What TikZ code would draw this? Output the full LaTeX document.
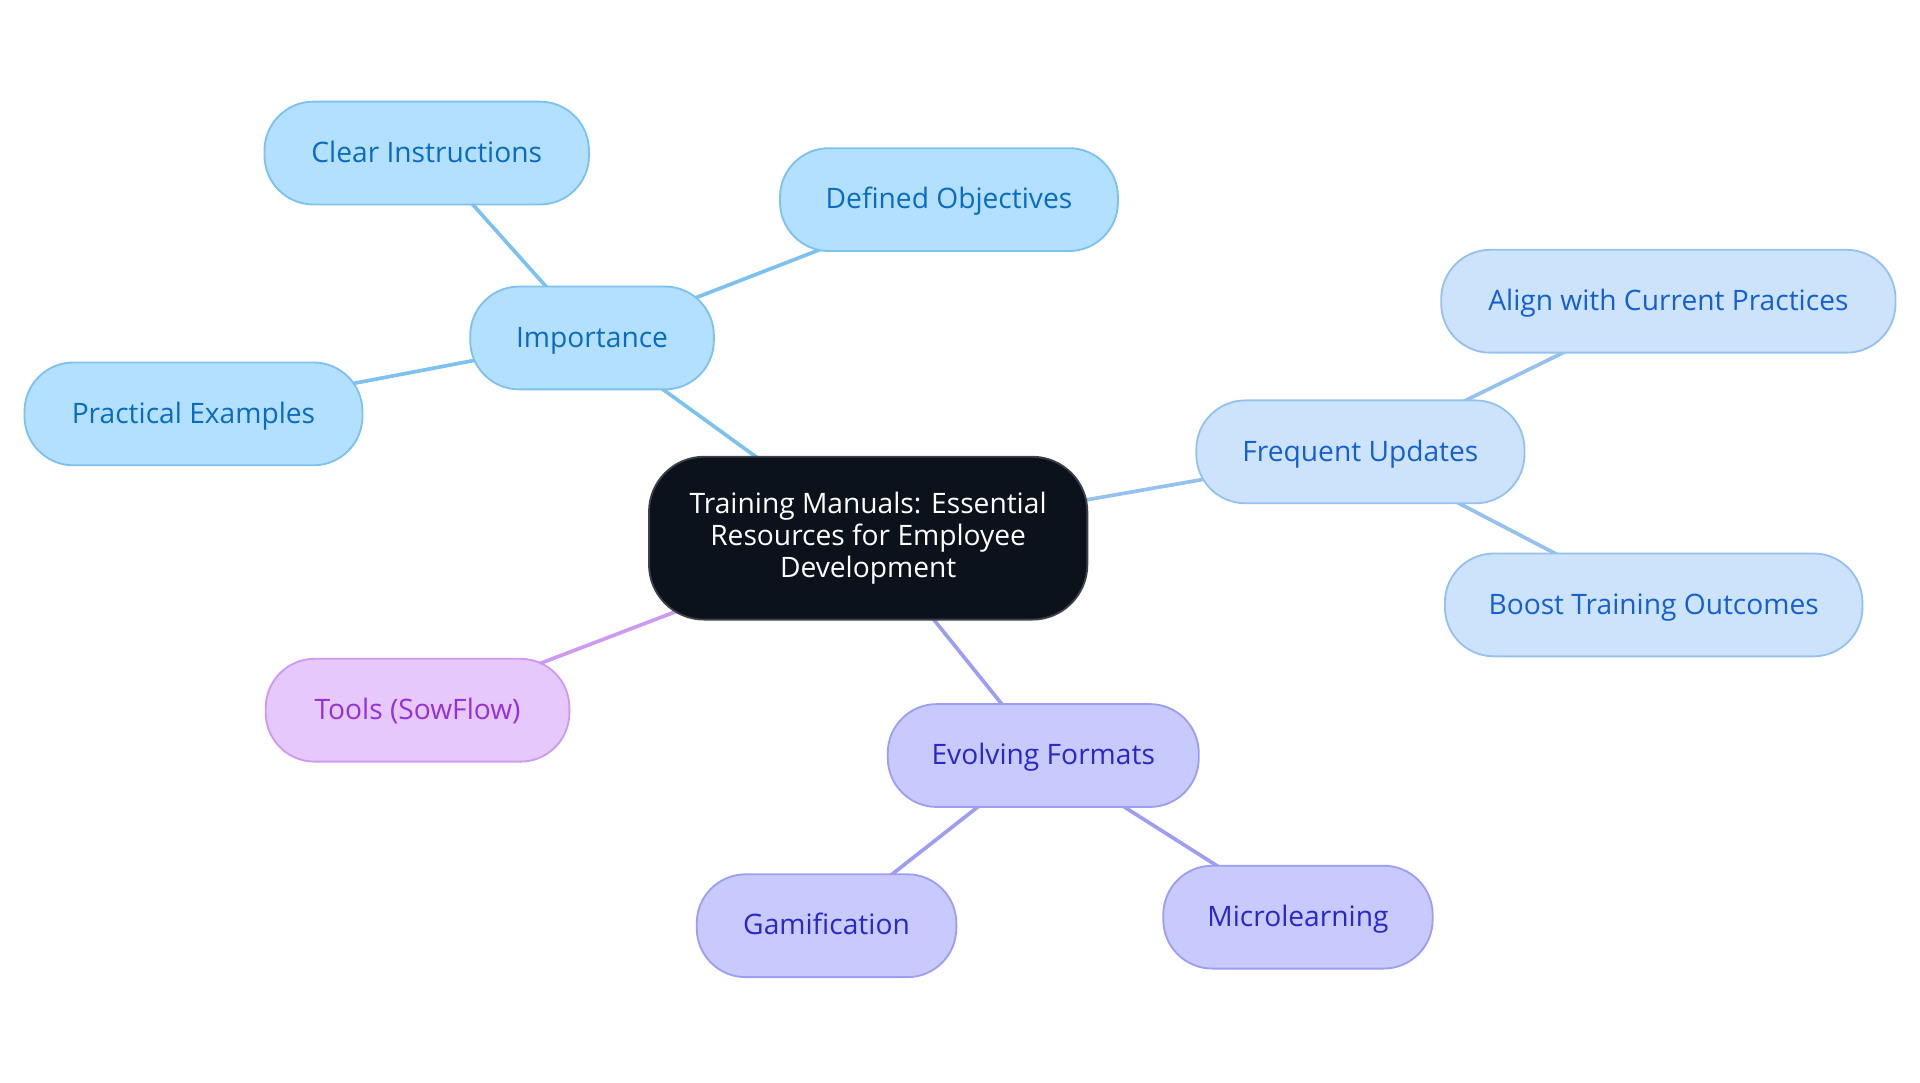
\documentclass[tikz,border=0pt]{standalone}
\usepackage{fontspec}
\setmainfont{Open Sans}
\usetikzlibrary{backgrounds}
\definecolor{impfill}{HTML}{B3E0FF}
\definecolor{impdraw}{HTML}{7DC2EF}
\definecolor{imptext}{HTML}{0A6BBF}
\definecolor{updfill}{HTML}{CDE3FB}
\definecolor{upddraw}{HTML}{95C1EF}
\definecolor{updtext}{HTML}{1560CF}
\definecolor{fmtfill}{HTML}{C8CAFD}
\definecolor{fmtdraw}{HTML}{9B9EF2}
\definecolor{fmttext}{HTML}{2828C6}
\definecolor{toolfill}{HTML}{E7C8FD}
\definecolor{tooldraw}{HTML}{CD9AF2}
\definecolor{tooltext}{HTML}{9333D6}
\definecolor{rootfill}{HTML}{0C121C}
\definecolor{rootdraw}{HTML}{3C4148}
\tikzset{
  x=1pt, y=-1pt,
  base/.style={rounded corners=40pt, line width=1.5pt, minimum height=84pt, inner sep=0pt,
    font=\fontsize{23}{26}\selectfont},
  leaf/.style={base, text height=20pt, text depth=5pt},
  imp/.style={leaf, fill=impfill, draw=impdraw, text=imptext},
  upd/.style={leaf, fill=updfill, draw=upddraw, text=updtext},
  fmt/.style={leaf, fill=fmtfill, draw=fmtdraw, text=fmttext},
  tool/.style={leaf, fill=toolfill, draw=tooldraw, text=tooltext},
  rootbox/.style={base, rounded corners=45pt, fill=rootfill, draw=rootdraw, text=white, align=center,
    minimum width=358pt, minimum height=133pt},
  link/.style={line width=3pt}
}
\begin{document}
\begin{tikzpicture}
\useasboundingbox (0,0) rectangle (1568,884);
\node[rootbox] (root) at (709,439.5) {Training Manuals: Essential\\Resources for Employee\\Development};
\node[imp, minimum width=199pt] (imp) at (483.5,276) {Importance};
\node[imp, minimum width=265pt] (clear) at (348.5,125) {Clear Instructions};
\node[imp, minimum width=276pt] (obj) at (775,163) {Defined Objectives};
\node[imp, minimum width=276pt] (prac) at (158,338) {Practical Examples};
\node[upd, minimum width=268pt] (upd) at (1111,369) {Frequent Updates};
\node[upd, minimum width=371pt] (align) at (1362.5,246) {Align with Current Practices};
\node[upd, minimum width=341pt] (boost) at (1350.5,494) {Boost Training Outcomes};
\node[fmt, minimum width=254pt] (fmt) at (852,617) {Evolving Formats};
\node[fmt, minimum width=212pt] (gam) at (675,756) {Gamification};
\node[fmt, minimum width=220pt] (micro) at (1060,749) {Microlearning};
\node[tool, minimum width=248pt] (tool) at (341,580) {Tools (SowFlow)};
\begin{scope}[on background layer]
\draw[link, impdraw] (root.center) -- (imp.center);
\draw[link, impdraw] (imp.center) -- (clear.center);
\draw[link, impdraw] (imp.center) -- (obj.center);
\draw[link, impdraw] (imp.center) -- (prac.center);
\draw[link, upddraw] (root.center) -- (upd.center);
\draw[link, upddraw] (upd.center) -- (align.center);
\draw[link, upddraw] (upd.center) -- (boost.center);
\draw[link, fmtdraw] (root.center) -- (fmt.center);
\draw[link, fmtdraw] (fmt.center) -- (gam.center);
\draw[link, fmtdraw] (fmt.center) -- (micro.center);
\draw[link, tooldraw] (root.center) -- (tool.center);
\end{scope}
\end{tikzpicture}
\end{document}
